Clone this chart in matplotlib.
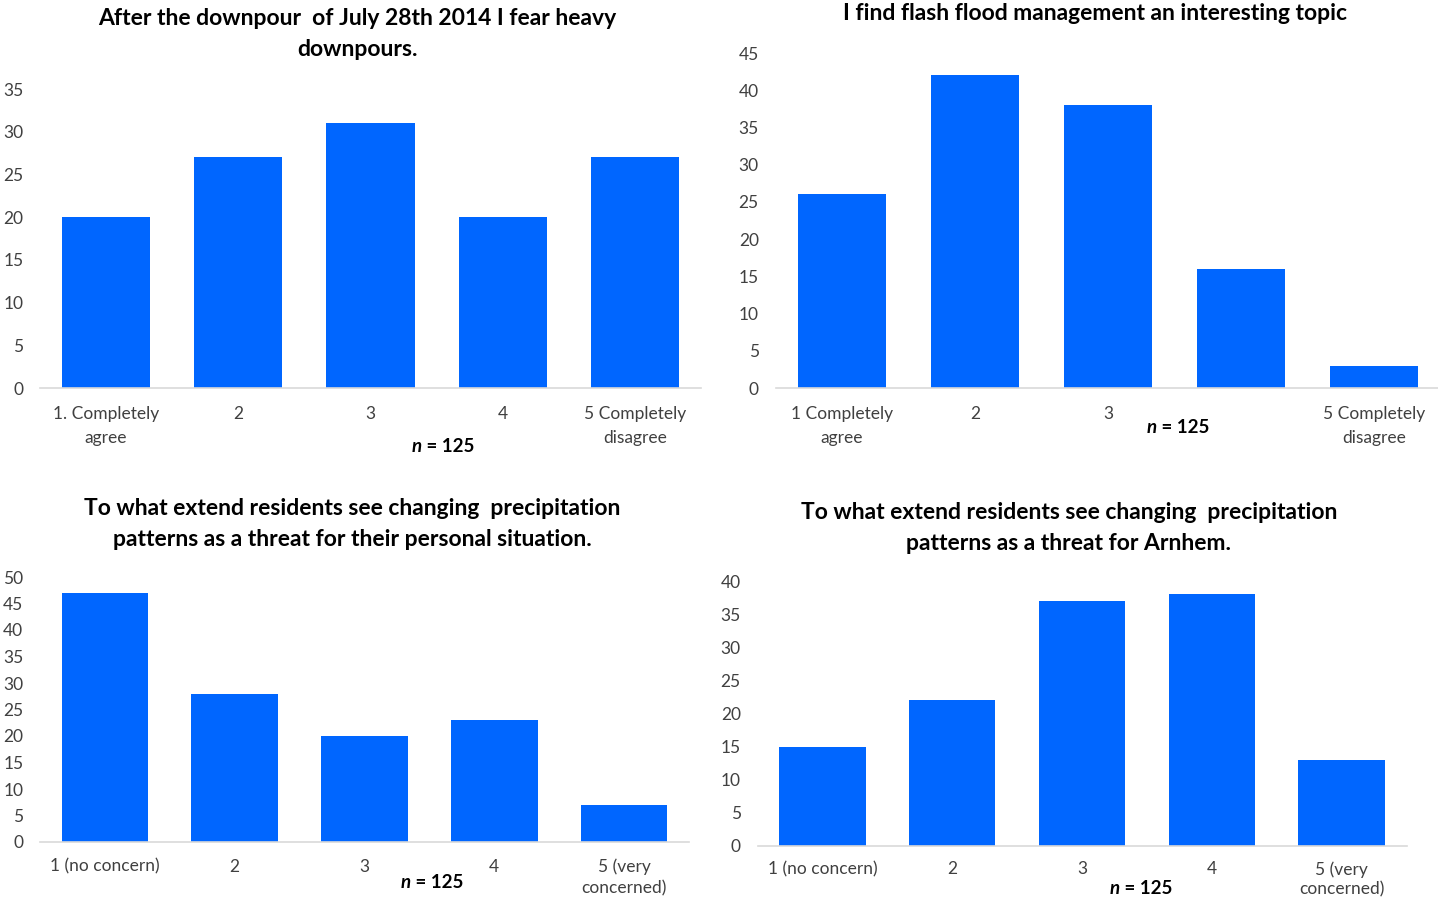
import matplotlib.pyplot as plt

plt.rcParams['font.family'] = ['Lato', 'DejaVu Sans']

W, H = 1438, 899
BLUE = '#0066ff'

# survey answers, n = 125 for each question
fear_labels = ['1. Completely\nagree', '2', '3', '4', '5 Completely\ndisagree']
fear_counts = [20, 27, 31, 20, 27]

interest_labels = ['1 Completely\nagree', '2', '3', '', '5 Completely\ndisagree']
interest_counts = [26, 42, 38, 16, 3]

personal_labels = ['1 (no concern)', '2', '3', '4', '5 (very\nconcerned)']
personal_counts = [47, 28, 20, 23, 7]

arnhem_labels = ['1 (no concern)', '2', '3', '4', '5 (very\nconcerned)']
arnhem_counts = [15, 22, 37, 38, 13]

fig = plt.figure(figsize=(W / 100, H / 100), dpi=100)


def px(x, y):
    return x / W, 1 - y / H


def panel(box, labels, counts, ymax, title, title_xy, n_xy, lsp=1.6, xpad=13):
    x0, x1, ybot, ytop = box
    ax = fig.add_axes([x0 / W, 1 - ybot / H, (x1 - x0) / W, (ybot - ytop) / H])
    ax.bar(range(len(counts)), counts, width=0.667, color=BLUE, zorder=2)
    ax.set_xlim(-0.5, len(counts) - 0.5)
    ax.set_ylim(0, ymax)
    ax.set_yticks(range(0, ymax + 1, 5))
    ax.set_xticks(range(len(counts)))
    ax.set_xticklabels(labels, fontsize=12.5, color='#404040', linespacing=lsp)
    ax.tick_params(axis='y', length=0, pad=12, labelsize=12.5, labelcolor='#404040')
    ax.tick_params(axis='x', length=0, pad=xpad)
    for s in ['top', 'right', 'left']:
        ax.spines[s].set_visible(False)
    ax.spines['bottom'].set_color('#d9d9d9')
    ax.spines['bottom'].set_linewidth(1.2)

    fig.text(*px(*title_xy), title, ha='center', va='center', fontsize=16.5,
             fontweight='bold', color='black', linespacing=1.55)
    t = fig.text(*px(*n_xy), 'n', ha='right', va='center', fontsize=13.5,
                 fontweight='bold', fontstyle='italic')
    ax.annotate(' = 125', xy=(1, 0), xycoords=t, va='bottom', ha='left',
                fontsize=13.5, fontweight='bold')
    return ax


panel((40, 701, 388, 89), fear_labels, fear_counts, 35,
      'After the downpour  of July 28th 2014 I fear heavy\ndownpours.',
      (357, 34), (422, 447))
panel((775.5, 1440.5, 388, 53), interest_labels, interest_counts, 45,
      'I find flash flood management an interesting topic',
      (1095, 13), (1157, 427))
panel((40, 689, 842, 577), personal_labels, personal_counts, 50,
      'To what extend residents see changing  precipitation\npatterns as a threat for their personal situation.',
      (352, 524), (411, 882), lsp=1.35, xpad=12)
panel((757.5, 1406.5, 846, 581), arnhem_labels, arnhem_counts, 40,
      'To what extend residents see changing  precipitation\npatterns as a threat for Arnhem.',
      (1069, 528), (1120, 888), lsp=1.3, xpad=11)

fig.savefig('out.png', dpi=100)
